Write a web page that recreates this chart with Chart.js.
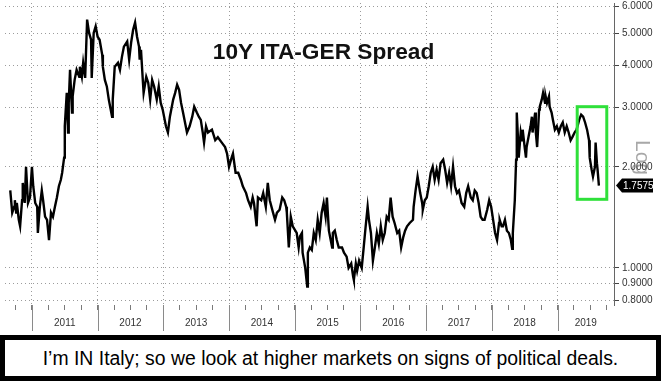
<!DOCTYPE html>
<html>
<head>
<meta charset="utf-8">
<script src="https://cdn.jsdelivr.net/npm/chart.js@4.4.0/dist/chart.umd.min.js"></script>
<style>
  html, body { margin: 0; padding: 0; background: #fff; }
  #wrap { position: relative; width: 661px; height: 381px; overflow: hidden; }
  #chartBox { position: absolute; left: 0; top: 0; width: 661px; height: 334px; }
  #caption {
    position: absolute; left: 0; top: 335px; width: 661px; height: 46px;
    box-sizing: border-box; border: 5px solid #000;
    font: 19.4px "Liberation Sans", Arial, sans-serif; color: #000;
    text-align: center; line-height: 36px; white-space: nowrap;
  }
</style>
</head>
<body>
<div id="wrap">
  <div id="chartBox"><canvas id="spreadChart" width="661" height="334"></canvas></div>
  <div id="caption">I’m IN Italy; so we look at higher markets on signs of political deals.</div>
</div>
<script>
// 10Y Italy - Germany spread (decimal years, %)
const dates = [
  2010.67, 2010.70, 2010.73, 2010.74, 2010.76, 2010.77, 2010.80, 2010.82, 2010.85, 2010.86,
  2010.89, 2010.91, 2010.94, 2010.97, 2011.00, 2011.02, 2011.05, 2011.08, 2011.09, 2011.12,
  2011.15, 2011.17, 2011.20, 2011.23, 2011.26, 2011.29, 2011.32, 2011.35, 2011.38, 2011.41,
  2011.44, 2011.46, 2011.49, 2011.50, 2011.53, 2011.55, 2011.56, 2011.58, 2011.61, 2011.62,
  2011.65, 2011.68, 2011.72, 2011.73, 2011.76, 2011.78, 2011.81, 2011.84, 2011.87, 2011.90,
  2011.91, 2011.94, 2011.97, 2012.00, 2012.03, 2012.07, 2012.08, 2012.11, 2012.14, 2012.17,
  2012.22, 2012.23, 2012.26, 2012.31, 2012.34, 2012.37, 2012.40, 2012.45, 2012.48, 2012.51,
  2012.54, 2012.57, 2012.60, 2012.63, 2012.64, 2012.66, 2012.69, 2012.70, 2012.74, 2012.77,
  2012.80, 2012.83, 2012.86, 2012.90, 2012.93, 2012.96, 2012.99, 2013.04, 2013.07, 2013.10,
  2013.15, 2013.18, 2013.21, 2013.24, 2013.27, 2013.30, 2013.33, 2013.36, 2013.40, 2013.44,
  2013.47, 2013.51, 2013.54, 2013.57, 2013.60, 2013.62, 2013.65, 2013.68, 2013.74, 2013.79,
  2013.83, 2013.89, 2013.94, 2013.97, 2014.00, 2014.04, 2014.06, 2014.10, 2014.14, 2014.18,
  2014.21, 2014.26, 2014.29, 2014.33, 2014.36, 2014.38, 2014.42, 2014.44, 2014.49, 2014.52,
  2014.56, 2014.59, 2014.62, 2014.67, 2014.70, 2014.73, 2014.77, 2014.81, 2014.84, 2014.87,
  2014.88, 2014.91, 2014.94, 2014.97, 2015.03, 2015.06, 2015.08, 2015.11, 2015.12, 2015.16,
  2015.19, 2015.20, 2015.23, 2015.26, 2015.29, 2015.32, 2015.35, 2015.38, 2015.41, 2015.44,
  2015.47, 2015.49, 2015.52, 2015.57, 2015.58, 2015.61, 2015.64, 2015.67, 2015.72, 2015.75,
  2015.79, 2015.82, 2015.86, 2015.89, 2015.90, 2015.93, 2015.95, 2015.98, 2016.02, 2016.05,
  2016.08, 2016.11, 2016.13, 2016.16, 2016.19, 2016.22, 2016.25, 2016.28, 2016.31, 2016.34,
  2016.37, 2016.40, 2016.43, 2016.46, 2016.49, 2016.52, 2016.56, 2016.59, 2016.62, 2016.65,
  2016.68, 2016.71, 2016.75, 2016.80, 2016.81, 2016.84, 2016.87, 2016.91, 2016.94, 2016.95,
  2016.98, 2017.01, 2017.04, 2017.07, 2017.10, 2017.13, 2017.16, 2017.19, 2017.22, 2017.26,
  2017.29, 2017.32, 2017.35, 2017.38, 2017.41, 2017.44, 2017.47, 2017.50, 2017.54, 2017.58,
  2017.61, 2017.64, 2017.68, 2017.71, 2017.74, 2017.77, 2017.80, 2017.83, 2017.86, 2017.89,
  2017.93, 2017.96, 2017.99, 2018.02, 2018.05, 2018.08, 2018.11, 2018.12, 2018.15, 2018.17,
  2018.20, 2018.23, 2018.26, 2018.29, 2018.31, 2018.32, 2018.35, 2018.37, 2018.38, 2018.40,
  2018.41, 2018.44, 2018.46, 2018.47, 2018.50, 2018.52, 2018.53, 2018.56, 2018.59, 2018.61,
  2018.62, 2018.66, 2018.67, 2018.69, 2018.72, 2018.73, 2018.76, 2018.78, 2018.81, 2018.82,
  2018.84, 2018.87, 2018.88, 2018.91, 2018.93, 2018.96, 2018.99, 2019.02, 2019.05, 2019.08,
  2019.11, 2019.14, 2019.17, 2019.20, 2019.23, 2019.26, 2019.29, 2019.33, 2019.36, 2019.39,
  2019.42, 2019.45, 2019.48, 2019.49, 2019.52, 2019.54, 2019.57, 2019.58, 2019.60, 2019.61,
  2019.63
];
const spread = [
  1.70, 1.46, 1.52, 1.59, 1.46, 1.56, 1.39, 1.33, 1.59, 1.79,
  1.56, 2.00, 1.56, 1.62, 2.00, 1.75, 1.56, 1.52, 1.27, 1.52,
  1.70, 1.59, 1.42, 1.39, 1.21, 1.46, 1.42, 1.52, 1.62, 1.75,
  1.83, 1.92, 2.13, 2.64, 3.32, 2.53, 3.10, 3.89, 2.90, 3.24,
  3.63, 3.89, 3.71, 3.97, 3.71, 4.08, 3.68, 5.49, 5.01, 4.78,
  3.68, 5.01, 5.24, 4.88, 4.78, 4.31, 3.97, 3.63, 3.47, 3.17,
  2.82, 3.17, 3.97, 4.08, 3.89, 4.25, 4.56, 4.72, 4.17, 4.69,
  5.12, 5.38, 4.88, 4.56, 4.17, 4.46, 3.56, 3.32, 3.71, 3.56,
  3.17, 3.63, 3.47, 3.17, 3.47, 3.10, 2.96, 2.64, 2.53, 2.82,
  3.17, 3.32, 3.51, 3.39, 3.10, 2.90, 2.71, 2.53, 2.64, 2.82,
  3.02, 2.90, 2.82, 2.76, 2.53, 2.36, 2.64, 2.53, 2.58, 2.40,
  2.45, 2.36, 2.29, 2.19, 2.00, 2.13, 2.19, 1.92, 1.92, 1.83,
  1.75, 1.67, 1.59, 1.52, 1.62, 1.56, 1.33, 1.62, 1.59, 1.67,
  1.52, 1.79, 1.59, 1.46, 1.39, 1.46, 1.49, 1.62, 1.59, 1.52,
  1.46, 1.15, 1.42, 1.33, 1.27, 1.15, 1.24, 1.27, 1.11, 1.00,
  0.88, 1.11, 1.15, 1.13, 1.27, 1.21, 1.39, 1.27, 1.46, 1.56,
  1.42, 1.62, 1.29, 1.15, 1.27, 1.29, 1.21, 1.15, 1.15, 1.11,
  1.08, 1.00, 1.03, 0.94, 0.92, 1.03, 0.98, 1.05, 1.00, 1.15,
  1.33, 1.52, 1.39, 1.27, 1.05, 1.15, 1.27, 1.18, 1.33, 1.21,
  1.27, 1.42, 1.39, 1.62, 1.42, 1.36, 1.27, 1.29, 1.15, 1.23,
  1.29, 1.33, 1.36, 1.39, 1.52, 1.70, 1.87, 1.67, 1.56, 1.49,
  1.59, 1.62, 1.75, 1.92, 2.00, 1.83, 1.96, 1.83, 2.05, 2.10,
  1.96, 1.79, 1.92, 1.75, 2.00, 1.75, 1.67, 1.70, 1.56, 1.52,
  1.67, 1.75, 1.62, 1.59, 1.70, 1.67, 1.56, 1.42, 1.39, 1.39,
  1.49, 1.59, 1.52, 1.39, 1.27, 1.21, 1.36, 1.39, 1.33, 1.33,
  1.39, 1.29, 1.27, 1.21, 1.14, 1.27, 1.59, 2.10, 2.90, 2.40,
  2.13, 2.53, 2.40, 2.58, 2.29, 2.13, 2.29, 2.46, 2.64, 2.82,
  2.53, 2.90, 2.53, 2.29, 2.96, 3.02, 3.17, 3.32, 3.10, 3.24,
  3.10, 3.24, 3.02, 2.90, 2.76, 2.58, 2.64, 2.53, 2.64, 2.71,
  2.53, 2.64, 2.53, 2.40, 2.46, 2.53, 2.58, 2.76, 2.86, 2.82,
  2.71, 2.58, 2.40, 2.13, 1.96, 1.87, 2.00, 2.36, 2.05, 1.96,
  1.7575
];
const yearLabels = ['2011', '2012', '2013', '2014', '2015', '2016', '2017', '2018', '2019'];
const yTicks = [0.8, 0.9, 1, 2, 3, 4, 5, 6];
const chartTitle = '10Y ITA-GER Spread';

// green box around the latest leg (years / spread %)
const boxFrom = 2019.30, boxTo = 2019.75, boxLow = 1.60, boxHigh = 3.02;

const xMin = 2010.59, xMax = 2019.86;
const firstYear = +yearLabels[0];

// quarter tick marks, plus one label tick in the middle of each visible year
const quarterTicks = [];
for (let q = Math.ceil(xMin * 4); q <= Math.floor(xMax * 4); q++) quarterTicks.push(q / 4);
const labelTicks = yearLabels.map((lbl, i) => {
  const start = firstYear + i, end = Math.min(start + 1, xMax);
  return (start + end) / 2;
});
const xTicks = [...new Set([...quarterTicks, ...labelTicks])].sort((a, b) => a - b);

const near = (a, b) => Math.abs(a - b) < 1e-6;
const isYearStart = v => near(v, Math.round(v));
const isQuarter = v => near(v * 4, Math.round(v * 4));

const decorations = {
  id: 'decorations',
  beforeDraw(chart) {
    const {ctx, chartArea} = chart;
    // "Log" marker behind the right axis labels
    ctx.save();
    ctx.translate(chartArea.right + 17, 140);
    ctx.rotate(Math.PI / 2);
    ctx.font = '21px "Liberation Sans", Arial, sans-serif';
    ctx.fillStyle = '#a8a8a8';
    ctx.textBaseline = 'bottom';
    ctx.fillText('Log', 0, 0);
    ctx.restore();
  },
  afterDraw(chart) {
    const {ctx, chartArea, scales: {x, y}} = chart;
    ctx.save();
    // year separators under the axis
    ctx.strokeStyle = '#8a8a8a';
    ctx.lineWidth = 1;
    yearLabels.forEach((lbl, i) => {
      const px = Math.round(x.getPixelForValue(firstYear + i)) + 0.5;
      ctx.beginPath();
      ctx.moveTo(px, chartArea.bottom);
      ctx.lineTo(px, chartArea.bottom + 26);
      ctx.stroke();
    });

    // title
    ctx.font = 'bold 22.7px "Liberation Sans", Arial, sans-serif';
    ctx.fillStyle = '#111';
    ctx.textAlign = 'center';
    ctx.textBaseline = 'alphabetic';
    ctx.fillText(chartTitle, 323.5, 59);

    // highlight box
    const bx1 = x.getPixelForValue(boxFrom), bx2 = x.getPixelForValue(boxTo);
    const by1 = y.getPixelForValue(boxHigh), by2 = y.getPixelForValue(boxLow);
    ctx.strokeStyle = '#2fe03a';
    ctx.lineWidth = 3;
    ctx.strokeRect(bx1, by1, bx2 - bx1, by2 - by1);

    // last value tag
    const last = spread[spread.length - 1];
    const ly = y.getPixelForValue(last);
    const lx = chartArea.right + 2;
    ctx.fillStyle = '#000';
    ctx.beginPath();
    ctx.moveTo(lx, ly);
    ctx.lineTo(lx + 6, ly - 7);
    ctx.lineTo(lx + 37, ly - 7);
    ctx.lineTo(lx + 37, ly + 7);
    ctx.lineTo(lx + 6, ly + 7);
    ctx.closePath();
    ctx.fill();
    ctx.fillStyle = '#fff';
    ctx.font = '10px "Liberation Sans", Arial, sans-serif';
    ctx.textAlign = 'left';
    ctx.textBaseline = 'middle';
    ctx.fillText(last.toFixed(4), lx + 7, ly + 0.5);
    ctx.restore();
  }
};

new Chart(document.getElementById('spreadChart'), {
  type: 'line',
  data: {
    datasets: [{
      data: dates.map((d, i) => ({x: d, y: spread[i]})),
      borderColor: '#000',
      borderWidth: 2.4,
      pointRadius: 0,
      tension: 0
    }]
  },
  options: {
    responsive: false,
    animation: false,
    devicePixelRatio: 1,
    layout: {padding: {left: 5, top: 3, right: 0, bottom: 0}},
    plugins: {legend: {display: false}, tooltip: {enabled: false}},
    scales: {
      x: {
        type: 'linear',
        min: xMin,
        max: xMax,
        afterBuildTicks: s => { s.ticks = xTicks.map(v => ({value: v})); },
        afterFit: s => { s.height = 29; s.paddingLeft = 0; s.paddingRight = 0; },
        ticks: {
          autoSkip: false,
          maxRotation: 0,
          padding: 7,
          color: '#333',
          font: {family: '"Liberation Sans", Arial, sans-serif', size: 10},
          callback: v => {
            const i = labelTicks.findIndex(t => near(t, v));
            return i >= 0 ? yearLabels[i] : '';
          }
        },
        grid: {
          color: c => c.tick && isYearStart(c.tick.value) ? '#9c9c9c' : 'rgba(0,0,0,0)',
          tickColor: c => c.tick && isQuarter(c.tick.value) ? '#7a7a7a' : 'rgba(0,0,0,0)',
          tickLength: 5,
          lineWidth: 1
        },
        border: {display: false, dash: [1, 3]}
      },
      y: {
        type: 'logarithmic',
        position: 'right',
        min: 0.775,
        max: 6.15,
        afterBuildTicks: s => { s.ticks = yTicks.map(v => ({value: v})); },
        afterFit: s => { s.width = 47; s.paddingTop = 0; s.paddingBottom = 0; },
        ticks: {
          padding: 3,
          color: '#333',
          font: {family: '"Liberation Sans", Arial, sans-serif', size: 10},
          callback: v => Number(v).toFixed(4)
        },
        grid: {color: '#9c9c9c', tickColor: '#444', tickLength: 5, lineWidth: 1},
        border: {display: true, color: '#666', width: 1, dash: [1, 3]}
      }
    }
  },
  plugins: [decorations]
});
</script>
</body>
</html>
